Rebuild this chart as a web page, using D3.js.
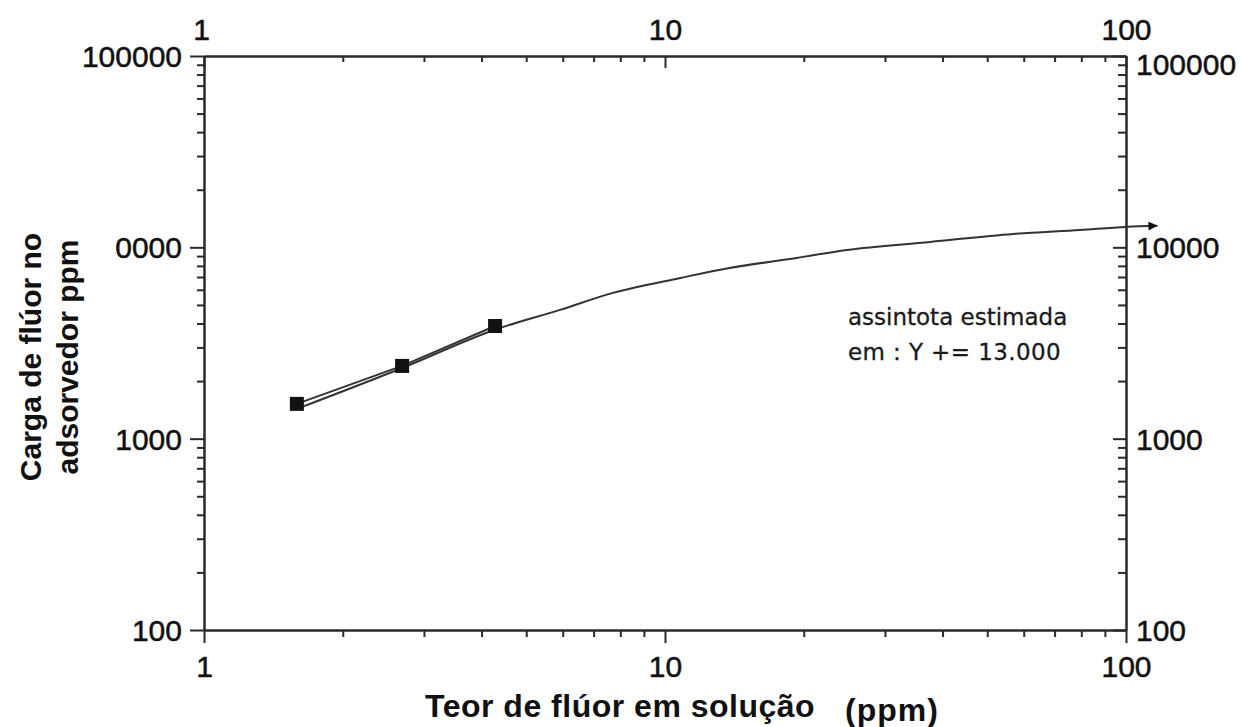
<!DOCTYPE html>
<html>
<head>
<meta charset="utf-8">
<script src="https://cdn.jsdelivr.net/npm/d3@7"></script>
<style>
  html, body { margin: 0; padding: 0; background: #fff; }
  svg text { font-family: "Liberation Sans", Arial, sans-serif; fill: #111; }
  .axis path, .axis line { stroke: #2a2a2a; stroke-width: 2; }
  .axis text { stroke: #111; stroke-width: 0.5px; }
  .note { font-family: "DejaVu Sans", sans-serif; font-size: 23px; fill: #1a1a1a; stroke: #1a1a1a; stroke-width: 0.3px; }
</style>
</head>
<body>
<script>
// measured points (ppm in solution, load on adsorber ppm)
const pointX = [1.59, 2.69, 4.28];
const pointY = [1520, 2400, 3880];

// fitted curve, last point is the arrow tip
const curveX = [1.59, 2.69, 4.26, 5.92, 7.71, 10.8, 13.8, 19.3, 24.8, 37.6, 56.9, 79.5, 100, 117];
const curveY = [1430, 2340, 3700, 4710, 5780, 6920, 7800, 8800, 9690, 10670, 11750, 12330, 12790, 12950];

const xMajor = [1, 10, 100];
const xLabels = ["1", "10", "100"];
const yMajor = [100, 1000, 10000, 100000];
const yLabelsLeft = ["100", "1000", "0000", "100000"];
const yLabelsRight = ["100", "1000", "10000", "100000"];

const xTitle = "Teor de flúor em solução";
const xUnit = "(ppm)";
const yTitle = ["Carga de flúor no", "adsorvedor ppm"];
const note = ["assintota estimada", "em : Y += 13.000"];

const W = 1242, H = 727;
const mLeft = 204, mRight = 1126, mTop = 56, mBottom = 630;

const svg = d3.select("body").append("svg")
  .attr("width", W).attr("height", H);

const x = d3.scaleLog().domain([1, 100]).range([mLeft, mRight]);
const y = d3.scaleLog().domain([100, 100000]).range([mBottom, mTop]);

// minor tick values 2..9 of each decade
const minors = (lo, hi) => {
  const out = [];
  for (let d = lo; d < hi; d *= 10) {
    for (let k = 2; k <= 9; k++) out.push(d * k);
  }
  return out;
};
const xMinor = minors(1, 100);
const yMinor = minors(100, 100000);

const fmt = (vals, labels) => v => labels[vals.indexOf(v)];

// left axis: ticks outward
svg.append("g").attr("class", "axis").attr("transform", `translate(${mLeft},0)`)
  .call(d3.axisLeft(y).tickValues(yMinor).tickSize(7).tickSizeOuter(0).tickFormat(""));
svg.append("g").attr("class", "axis left-major").attr("transform", `translate(${mLeft},0)`)
  .call(d3.axisLeft(y).tickValues(yMajor).tickSize(14).tickSizeOuter(0).tickPadding(8)
    .tickFormat(fmt(yMajor, yLabelsLeft)))
  .call(g => g.selectAll("text").attr("font-size", 30).attr("fill", "#111").attr("dy", "0.35em"));

// right axis: ticks inward
svg.append("g").attr("class", "axis").attr("transform", `translate(${mRight},0)`)
  .call(d3.axisRight(y).tickValues(yMinor).tickSizeInner(-8).tickSizeOuter(0).tickFormat(""));
svg.append("g").attr("class", "axis right-major").attr("transform", `translate(${mRight},0)`)
  .call(d3.axisRight(y).tickValues(yMajor).tickSizeInner(-13).tickSizeOuter(0).tickPadding(10)
    .tickFormat(fmt(yMajor, yLabelsRight)))
  .call(g => g.selectAll("text").attr("font-size", 30).attr("fill", "#111")
    .attr("dy", d => d === 100000 ? "0.62em" : "0.35em"));

// bottom axis: ticks outward
svg.append("g").attr("class", "axis").attr("transform", `translate(0,${mBottom})`)
  .call(d3.axisBottom(x).tickValues(xMinor).tickSize(7).tickSizeOuter(0).tickFormat(""));
svg.append("g").attr("class", "axis bottom-major").attr("transform", `translate(0,${mBottom})`)
  .call(d3.axisBottom(x).tickValues(xMajor).tickSize(13).tickSizeOuter(0).tickPadding(13)
    .tickFormat(fmt(xMajor, xLabels)))
  .call(g => g.selectAll("text").attr("font-size", 30).attr("fill", "#111"));

// top axis: ticks inward
svg.append("g").attr("class", "axis").attr("transform", `translate(0,${mTop})`)
  .call(d3.axisTop(x).tickValues(xMinor).tickSizeInner(-6).tickSizeOuter(0).tickFormat(""));
svg.append("g").attr("class", "axis top-major").attr("transform", `translate(0,${mTop})`)
  .call(d3.axisTop(x).tickValues(xMajor).tickSizeInner(-12).tickSizeOuter(0).tickPadding(16)
    .tickFormat(fmt(xMajor, xLabels)))
  .call(g => g.selectAll("text").attr("font-size", 30).attr("fill", "#111")
    .attr("dx", d => d === 1 ? -3 : 0));

// arrow head for the asymptote curve
svg.append("defs").append("marker")
  .attr("id", "arrow")
  .attr("viewBox", "0 0 10 10")
  .attr("refX", 10).attr("refY", 5)
  .attr("markerWidth", 12).attr("markerHeight", 4.5)
  .attr("markerUnits", "strokeWidth")
  .attr("orient", "auto")
  .append("path").attr("d", "M0,0 L10,5 L0,10 Z").attr("fill", "#111");

const curve = curveX.map((v, i) => [v, curveY[i]]);
const pts = pointX.map((v, i) => [v, pointY[i]]);

const smooth = d3.line().x(d => x(d[0])).y(d => y(d[1])).curve(d3.curveMonotoneX);
const straight = d3.line().x(d => x(d[0])).y(d => y(d[1]));

svg.append("path")
  .attr("d", straight(pts))
  .attr("fill", "none").attr("stroke", "#333").attr("stroke-width", 2);

svg.append("path")
  .attr("d", smooth(curve))
  .attr("fill", "none").attr("stroke", "#333").attr("stroke-width", 2)
  .attr("marker-end", "url(#arrow)");

svg.append("g").selectAll("rect")
  .data(pts)
  .join("rect")
  .attr("x", d => x(d[0]) - 7).attr("y", d => y(d[1]) - 7)
  .attr("width", 14).attr("height", 14)
  .attr("fill", "#111");

// annotation
svg.append("text").attr("class", "note").attr("x", 848).attr("y", 325).text(note[0]);
svg.append("text").attr("class", "note").attr("x", 848).attr("y", 360)
  .attr("letter-spacing", 0.4).text(note[1]);

// axis titles
svg.append("text")
  .attr("x", 425).attr("y", 717)
  .attr("font-size", 32).attr("font-weight", "bold")
  .attr("letter-spacing", 0.5)
  .text(xTitle);
svg.append("text")
  .attr("x", 845).attr("y", 721)
  .attr("font-size", 32).attr("font-weight", "bold")
  .attr("letter-spacing", 1)
  .text(xUnit);

svg.append("g").attr("transform", "translate(0,357) rotate(-90)")
  .selectAll("text")
  .data(yTitle)
  .join("text")
  .attr("x", 0)
  .attr("y", (d, i) => i === 0 ? 41 : 78)
  .attr("text-anchor", "middle")
  .attr("font-size", 30).attr("font-weight", "bold")
  .text(d => d);
</script>
</body>
</html>
